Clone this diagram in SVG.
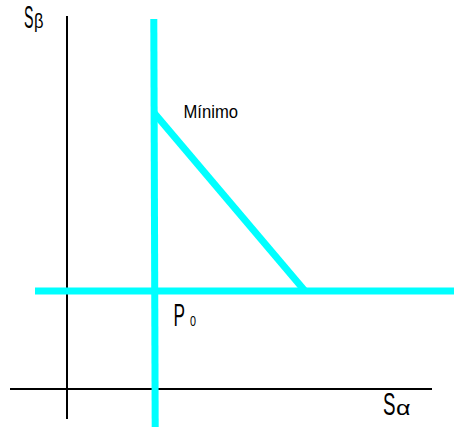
<svg xmlns="http://www.w3.org/2000/svg" width="454" height="429" viewBox="0 0 454 429">
<style>
.ax{stroke:#000;stroke-width:2;fill:none}
.cy{stroke:#00FFFF;stroke-width:7;fill:none}
text{font-family:"Liberation Sans",Arial,sans-serif;fill:#000}
</style>
<rect width="454" height="429" fill="#fff"/>
<g id="connectors">
<line class="ax" x1="67" y1="16" x2="67" y2="419"/>
<line class="ax" x1="10" y1="389" x2="432" y2="389"/>
<line class="cy" x1="153.8" y1="19" x2="155.2" y2="427"/>
<line class="cy" x1="35" y1="291" x2="454" y2="291"/>
<polyline class="cy" points="154.2,113 305,291"/>
</g>
<g id="label-sb">
<text x="24" y="28" font-size="32" textLength="9.5" lengthAdjust="spacingAndGlyphs">S</text>
<text x="34" y="28" font-size="21" textLength="9.5" lengthAdjust="spacingAndGlyphs">β</text>
</g>
<g id="label-min">
<text x="183.5" y="117.5" font-size="18.5" textLength="54.5" lengthAdjust="spacingAndGlyphs">Mínimo</text>
</g>
<g id="label-p0">
<text x="173.5" y="325.5" font-size="31" textLength="11.5" lengthAdjust="spacingAndGlyphs">P</text>
<text x="190" y="325.5" font-size="14.5" textLength="6" lengthAdjust="spacingAndGlyphs">0</text>
</g>
<g id="label-sa">
<text x="383" y="414.5" font-size="31" textLength="12.5" lengthAdjust="spacingAndGlyphs">S</text>
<text x="396" y="414.5" font-size="20" textLength="14.5" lengthAdjust="spacingAndGlyphs">α</text>
</g>
</svg>
